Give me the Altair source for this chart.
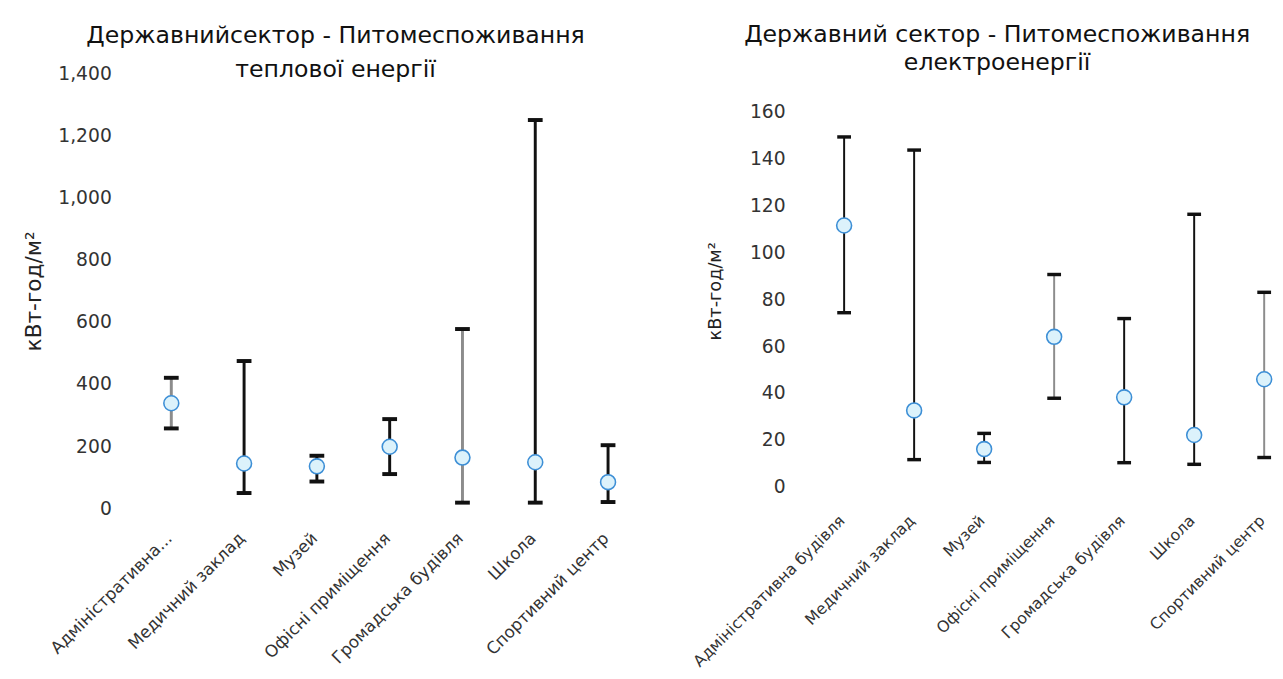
import altair as alt
import pandas as pd

# ---------------- data ----------------
categories = [
    "Адміністративна будівля",
    "Медичний заклад",
    "Музей",
    "Офісні приміщення",
    "Громадська будівля",
    "Школа",
    "Спортивний центр",
]

heat_mid = [338, 144, 135, 198, 163, 148, 84]
heat_min = [257, 49, 86, 110, 18, 18, 20]
heat_max = [420, 474, 169, 287, 577, 1250, 203]

elec_mid = [111.5, 32.6, 16.1, 64.0, 38.2, 22.1, 45.9]
elec_min = [74.3, 11.6, 10.4, 37.8, 10.3, 9.6, 12.5]
elec_max = [149.3, 143.7, 22.8, 90.6, 71.8, 116.3, 83.0]

heat_ticks = [0, 200, 400, 600, 800, 1000, 1200, 1400]
elec_ticks = [0, 20, 40, 60, 80, 100, 120, 140, 160]

heat_title = ["Державнийсектор - Питомеспоживання", "теплової енергії"]
elec_title = ["Державний сектор - Питомеспоживання", "електроенергії"]
y_title = "кВт-год/м²"

FONT = "DejaVu Sans"

heat = pd.DataFrame({"cat": categories, "mid": heat_mid, "lo": heat_min, "hi": heat_max})
elec = pd.DataFrame({"cat": categories, "mid": elec_mid, "lo": elec_min, "hi": elec_max})


def panel(df, width, height, domain, ticks, fmt, title_lines, title_lh, title_offset, title_dx,
          ytitle_size, ytitle_pad, xscale, x_offset, x_pad, x_font, rule_w, cap_w, cap_t, gray,
          label_expr=None):
    xaxis = dict(title=None, labelAngle=-45, labelPadding=x_pad, labelOffset=-8,
                 labelFontSize=x_font, labelColor="#333333", labelFont=FONT,
                 labelLimit=400, offset=x_offset,
                 domain=False, ticks=False, grid=False)
    if label_expr:
        xaxis["labelExpr"] = label_expr
    x = alt.X("cat:N", sort=categories, scale=xscale, axis=alt.Axis(**xaxis))
    yaxis = alt.Axis(title=y_title, values=ticks, format=fmt, labelFontSize=19,
                     labelFont=FONT, labelColor="#333333", labelPadding=24,
                     titleFont=FONT, titleFontSize=ytitle_size, titleFontWeight="normal",
                     titleColor="#222222", titlePadding=ytitle_pad,
                     domain=False, ticks=False, grid=False)
    yscale = alt.Scale(domain=domain, nice=False, zero=False)

    base = alt.Chart(df)
    rules = base.mark_rule(strokeWidth=rule_w).encode(
        x=x,
        y=alt.Y("lo:Q", scale=yscale, axis=yaxis, title=y_title),
        y2="hi:Q",
        color=alt.condition(alt.FieldOneOfPredicate(field="cat", oneOf=gray),
                            alt.value("#8c8c8c"), alt.value("#111111")),
    )
    caps_lo = base.mark_tick(size=cap_w, thickness=cap_t, color="#111111",
                             orient="horizontal", opacity=1).encode(
        x=x, y=alt.Y("lo:Q", scale=yscale, axis=yaxis, title=y_title))
    caps_hi = base.mark_tick(size=cap_w, thickness=cap_t, color="#111111",
                             orient="horizontal", opacity=1).encode(
        x=x, y=alt.Y("hi:Q", scale=yscale, axis=yaxis, title=y_title))
    pts = base.mark_circle(size=230, fill="#dcf2fb", stroke="#3d8fd6",
                           strokeWidth=1.6, opacity=1).encode(
        x=x, y=alt.Y("mid:Q", scale=yscale, axis=yaxis, title=y_title))

    return alt.layer(rules, caps_lo, caps_hi, pts).properties(
        width=width, height=height,
        title=alt.TitleParams(text=title_lines, font=FONT, fontSize=24,
                              fontWeight="normal", color="#111111",
                              lineHeight=title_lh, offset=title_offset, dx=title_dx),
    )


left = panel(
    heat, 518, 442, [0, 1400], heat_ticks, ",d", heat_title, 35, -18, -55,
    22, 13, alt.Scale(type="point", padding=0.5), 0, 22, 17, 3, 15, 4,
    ["Адміністративна будівля", "Громадська будівля"],
    label_expr="datum.value == 'Адміністративна будівля' ? 'Адміністративна...' : datum.value",
)
right = panel(
    elec, 463, 442, [-9.14, 176.4], elec_ticks, "d", elec_title, 29, -2, -40,
    18, 25, alt.Scale(type="point", padding=0.2528, align=1), -9, 13, 16, 2, 14, 3.5,
    ["Офісні приміщення", "Спортивний центр"],
)

chart = alt.hconcat(left, right, spacing=46).properties(
    padding={"left": 14, "top": 10, "right": 0, "bottom": 0},
    background="white",
).configure_view(stroke=None)

chart.save("out.html", embed_options={"renderer": "svg", "actions": False})
